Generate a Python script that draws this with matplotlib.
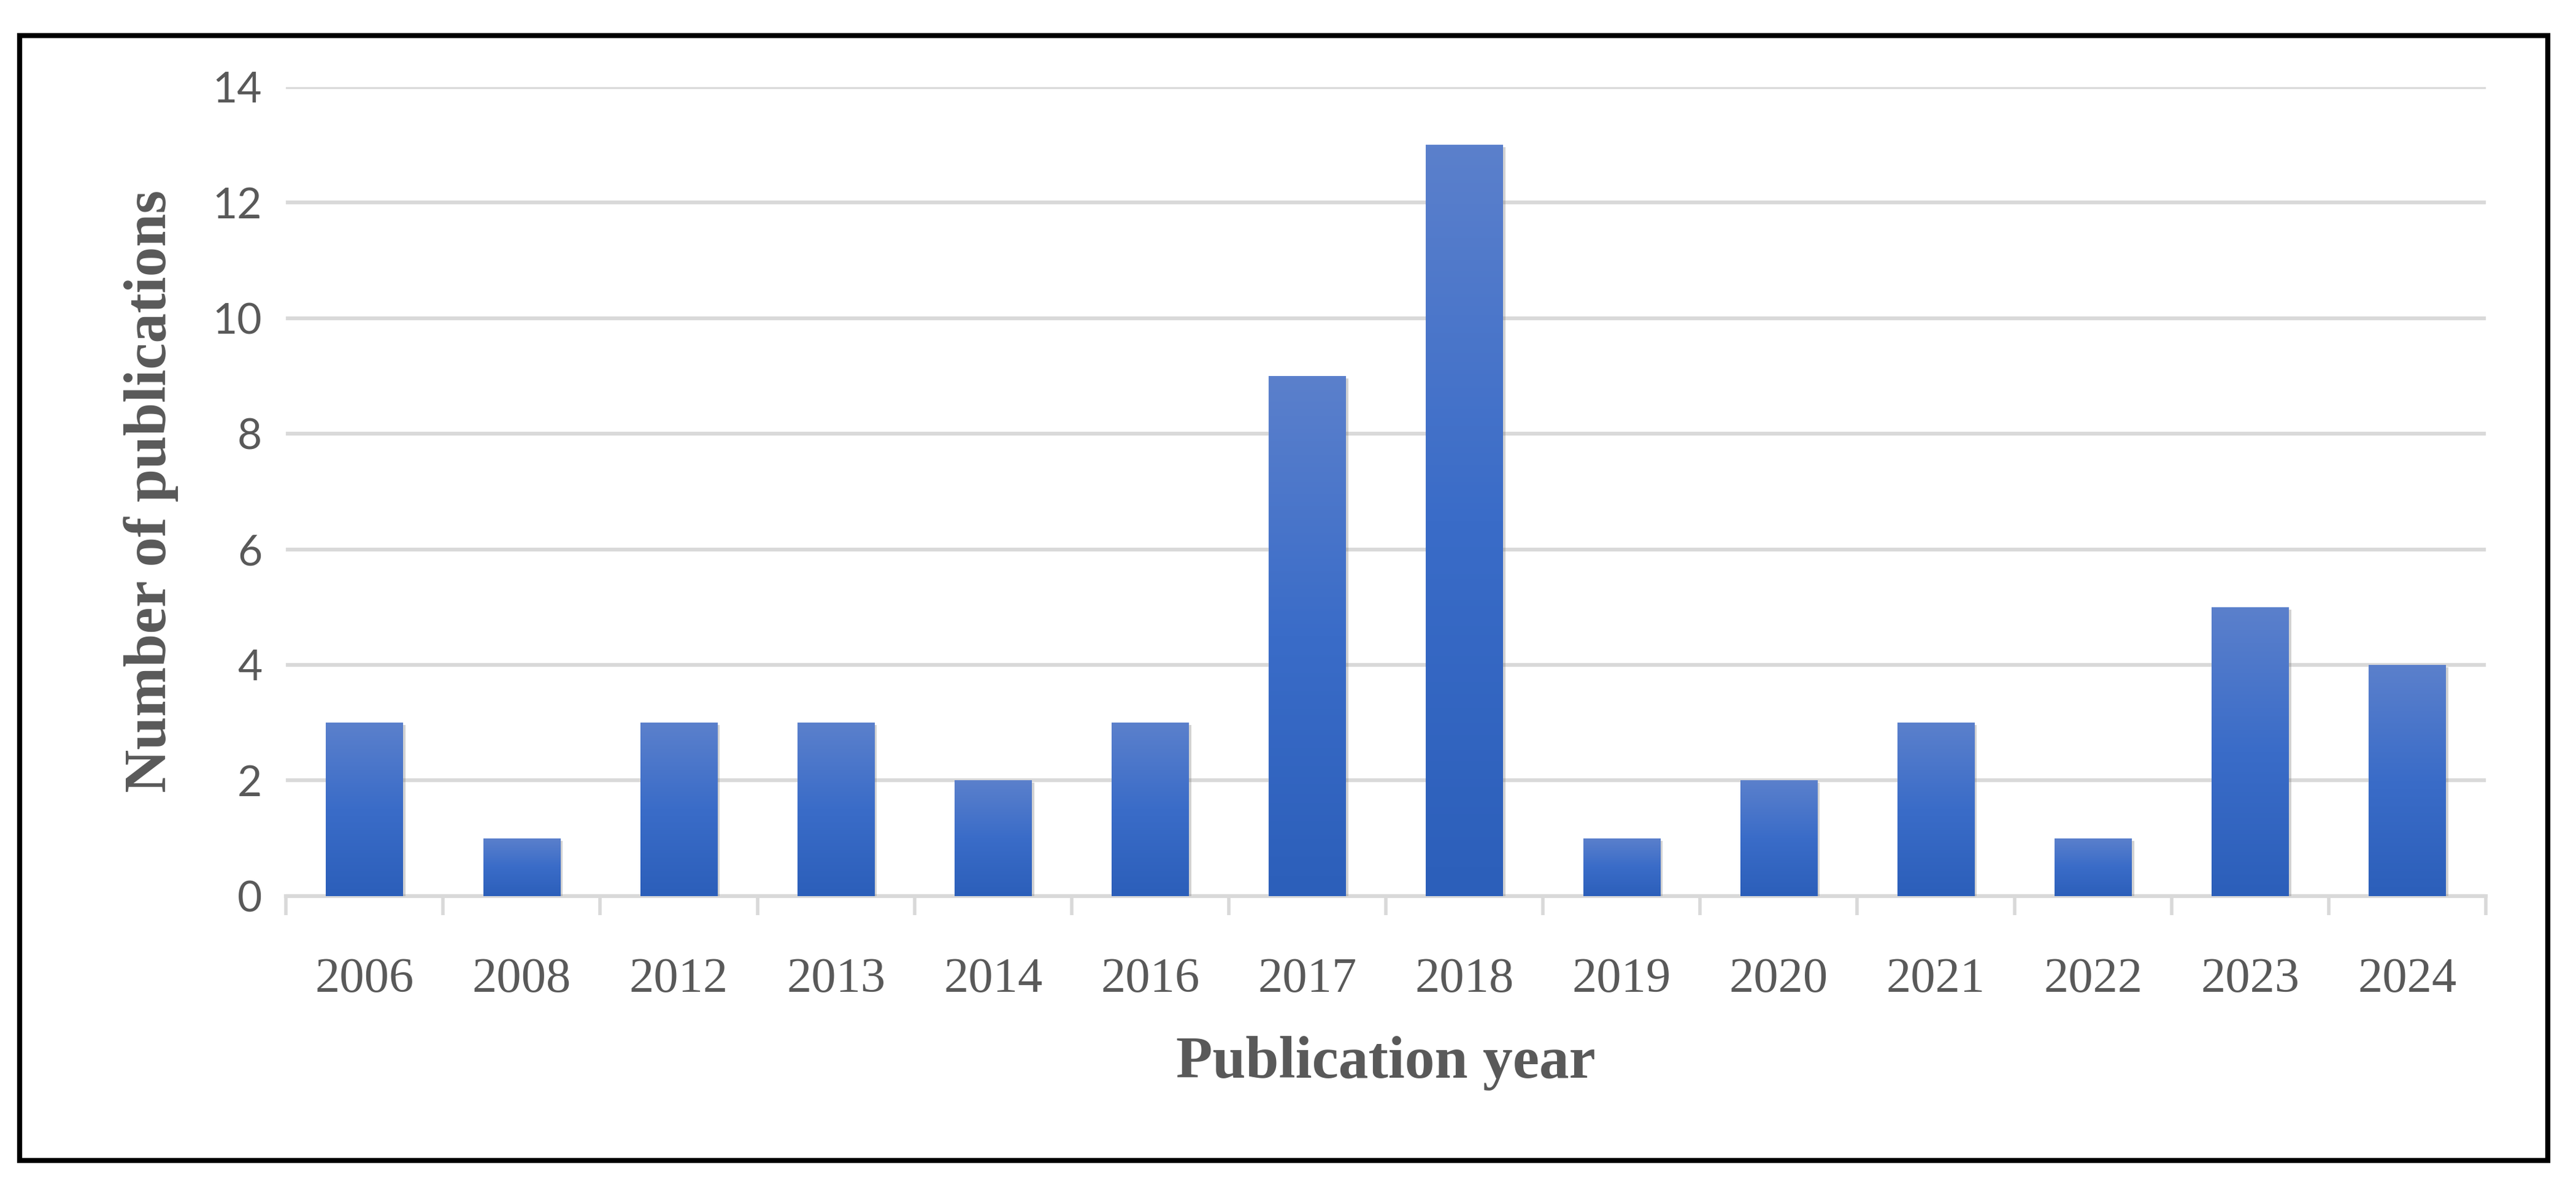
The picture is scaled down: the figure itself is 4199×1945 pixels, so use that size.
import numpy as np
import matplotlib
matplotlib.use("Agg")
import matplotlib.pyplot as plt
import matplotlib.patheffects as pe
from matplotlib.patches import Rectangle

years = ["2006", "2008", "2012", "2013", "2014", "2016", "2017",
         "2018", "2019", "2020", "2021", "2022", "2023", "2024"]
counts = [3, 1, 3, 3, 2, 3, 9, 13, 1, 2, 3, 1, 5, 4]
y_ticks = [0, 2, 4, 6, 8, 10, 12, 14]

text_gray = "#595959"
grid_gray = "#d9d9d9"
serif = ["Liberation Serif", "DejaVu Serif"]

fig = plt.figure(figsize=(41.99, 19.45), dpi=100)
ax = fig.add_axes([0.111, 0.249, 0.854, 0.678])

x = np.arange(len(years))
bars = ax.bar(x, counts, width=0.49, color="#3a68c4", zorder=3,
              path_effects=[pe.SimplePatchShadow(offset=(3, -3), shadow_rgbFace="#7f7f7f", alpha=0.35),
                            pe.Normal()])

# vertical gradient inside each bar
grad = np.linspace(0, 1, 256).reshape(-1, 1)
cmap = matplotlib.colors.LinearSegmentedColormap.from_list("blues", ["#2c5fba", "#3a6cc8", "#5b80cc"])
for b in bars:
    x0, w, h = b.get_x(), b.get_width(), b.get_height()
    im = ax.imshow(grad, extent=(x0, x0 + w, 0, h), origin="lower", cmap=cmap,
                   aspect="auto", zorder=4)
    im.set_clip_path(b)

ax.set_xlim(-0.5, len(years) - 0.5)
ax.set_ylim(0, 14)

ax.set_yticks(y_ticks)
ax.yaxis.grid(True, color=grid_gray, linewidth=4.5, zorder=0)
ax.set_axisbelow(True)

ax.set_xticks(np.arange(-0.5, len(years)), minor=False)
ax.set_xticklabels([])
ax.set_xticks(x, minor=True)
ax.set_xticklabels(years, minor=True, fontsize=58, color=text_gray, family=serif)
ax.tick_params(axis="x", which="major", length=22, width=4, color=grid_gray)
ax.tick_params(axis="x", which="minor", length=0, pad=72)
ax.tick_params(axis="y", length=0, labelsize=50, labelcolor=text_gray, pad=28)
for lab in ax.get_yticklabels():
    lab.set_family(["Lato", "DejaVu Sans"])

for s in ["top", "right", "left"]:
    ax.spines[s].set_visible(False)
ax.spines["bottom"].set_color(grid_gray)
ax.spines["bottom"].set_linewidth(4.5)

ax.set_xlabel("Publication year", fontsize=70, fontweight="bold", color=text_gray,
              family=serif, labelpad=40)
ax.set_ylabel("Number of publications", fontsize=70, fontweight="bold", color=text_gray,
              family=serif, labelpad=40)

# outer frame
fig.patches.append(Rectangle((0.0077, 0.0275), 0.9813, 0.9425, transform=fig.transFigure,
                             fill=False, edgecolor="black", linewidth=6))

fig.savefig("out.png", dpi=100, facecolor="white")
